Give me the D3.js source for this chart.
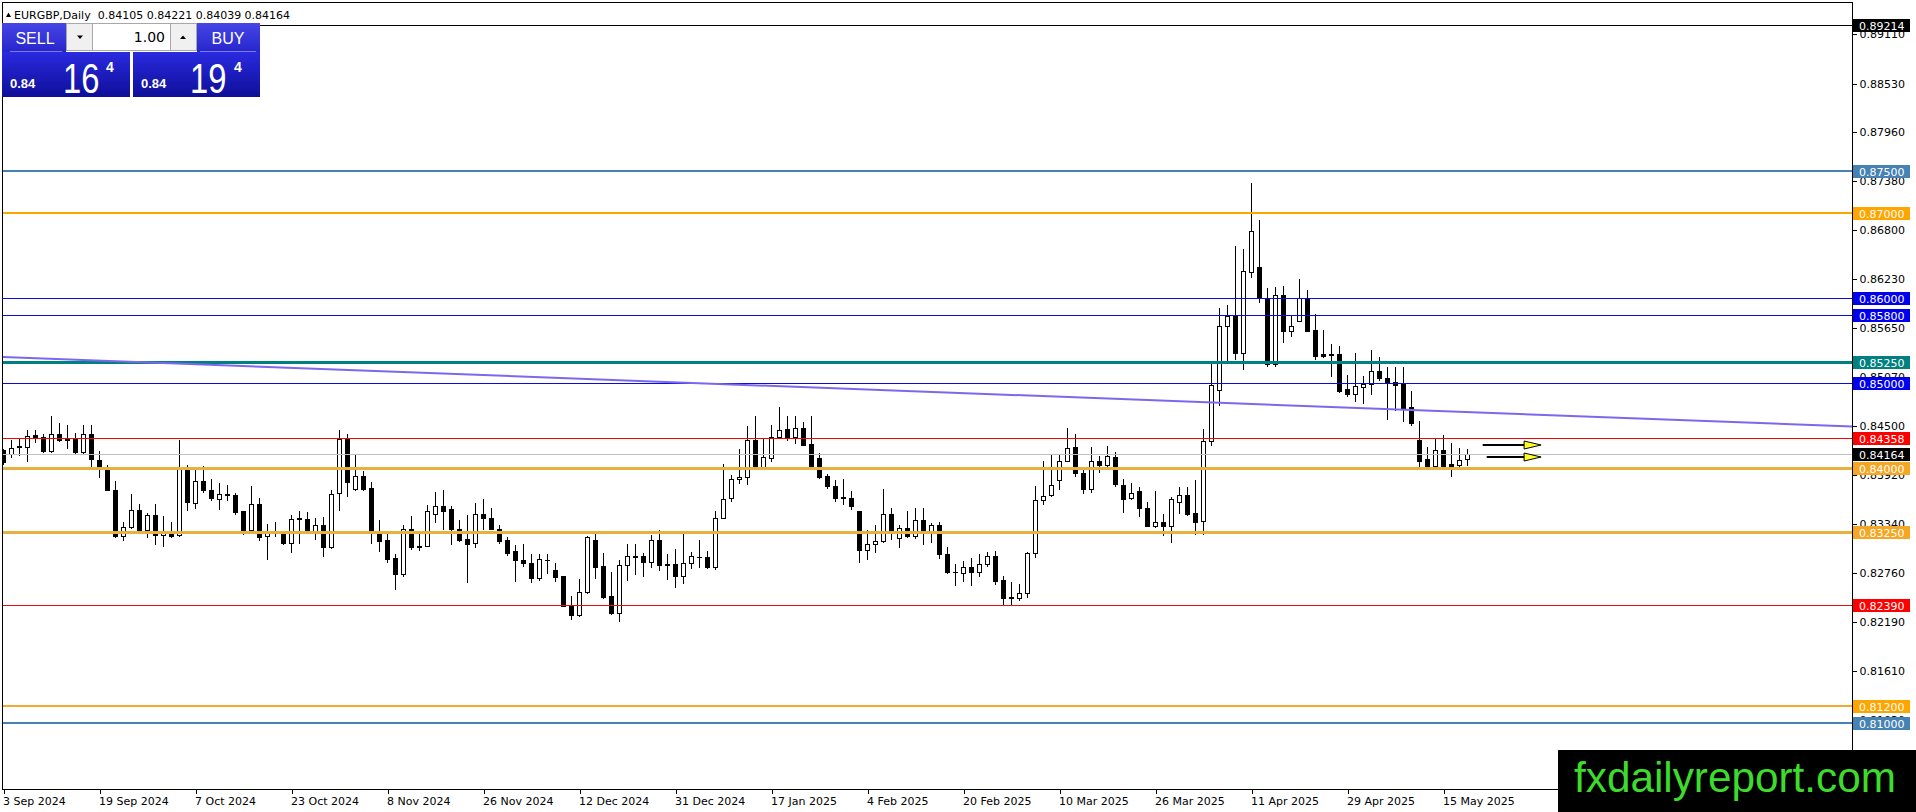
<!DOCTYPE html>
<html>
<head>
<meta charset="utf-8">
<script src="https://cdnjs.cloudflare.com/ajax/libs/d3/7.8.5/d3.min.js"></script>
<style>
  body { margin: 0; background: #fff; overflow: hidden; }
  svg { display: block; }
</style>
</head>
<body>
<script>
// EURGBP daily candles, 3 Sep 2024 .. 20 May 2025
var opens = [.84208,.84169,.84255,.84247,.84385,.84369,.84200,.84397,.84338,.84338,
.84188,.84404,.84098,.83992,.83745,.83195,.83305,.83509,.83266,.83443,
.83207,.83254,.83207,.83992,.83592,.83843,.83745,.83635,.83694,.83678,
.83490,.83266,.83580,.83195,.83250,.83227,.83117,.83407,.83403,.83234,
.83333,.83070,.83709,.84345,.83753,.83910,.83768,.83258,.83148,.82944,
.82748,.83286,.83085,.83081,.83462,.83560,.83513,.83286,.83160,.83117,
.83462,.83411,.83286,.83148,.83019,.82913,.82885,.82704,.82924,.82806,
.82724,.82375,.82273,.82540,.83156,.82846,.82500,.82292,.82854,.82964,
.82960,.82893,.83156,.82873,.82873,.82728,.82885,.82956,.82948,.82834,
.83415,.83647,.83870,.83894,.84334,.84012,.84118,.84365,.84463,.84365,
.84475,.84279,.84122,.83902,.83784,.83655,.83651,.83501,.83038,.83109,
.83140,.83462,.83179,.83297,.83203,.83391,.83258,.83333,.82991,.82779,
.82767,.82834,.82775,.82873,.82971,.82677,.82477,.82473,.82532,.83003,
.83627,.83686,.83863,.84082,.84247,.83945,.83753,.84082,.84039,.84137,
.83804,.83651,.83725,.83533,.83321,.83364,.83321,.83607,.83686,.83474,
.83376,.84318,.84915,.85680,.85790,.85354,.86316,.86375,.86002,.85221,
.86042,.85614,.85731,.86006,.85629,.85343,.85339,.85339,.84927,.84876,
.84954,.84993,.85150,.85064,.85009,.84993,.84726,.84326,.84102,.84020,
.84208,.84043,.84040,.84105];

var highs = [.84228,.84334,.84357,.84444,.84451,.84404,.84609,.84534,.84514,.84416,
.84514,.84514,.84200,.84039,.83843,.83364,.83698,.83580,.83474,.83580,
.83431,.83364,.84326,.84039,.83973,.84027,.83867,.83827,.83804,.83706,
.83501,.83784,.83651,.83337,.83364,.83234,.83443,.83501,.83478,.83415,
.83423,.83745,.84451,.84404,.84169,.83961,.83831,.83384,.83234,.82991,
.83325,.83431,.83219,.83568,.83717,.83737,.83560,.83384,.83443,.83592,
.83631,.83533,.83325,.83187,.83089,.83101,.82991,.82991,.82983,.82885,
.82728,.82500,.82697,.83195,.83234,.82999,.82775,.82913,.83109,.83109,
.83003,.83215,.83266,.82983,.83050,.83234,.83011,.83156,.83030,.83501,
.84043,.83914,.84220,.84491,.84609,.84357,.84514,.84718,.84609,.84620,
.84542,.84609,.84181,.83933,.83855,.83874,.83725,.83501,.83274,.83333,
.83757,.83533,.83333,.83501,.83533,.83533,.83352,.83364,.83070,.82873,
.82901,.82944,.82991,.83011,.83030,.82724,.82657,.82638,.83011,.83784,
.84090,.84161,.84149,.84475,.84397,.84012,.84247,.84145,.84263,.84185,
.83874,.83827,.83776,.83600,.83725,.83462,.83666,.83776,.83776,.83863,
.84463,.85229,.85885,.85924,.86611,.86583,.87361,.86917,.86120,.86132,
.86151,.85806,.86230,.86093,.85810,.85629,.85457,.85433,.85103,.85358,
.85080,.85386,.85315,.85190,.85197,.85197,.84903,.84561,.84255,.84345,
.84385,.84298,.84239,.84221];

var lows = [.84043,.84130,.84157,.84090,.84306,.84196,.84188,.84314,.84239,.84169,
.84161,.84012,.83894,.83737,.83187,.83148,.83293,.83254,.83187,.83109,
.83081,.83187,.83195,.83509,.83533,.83717,.83627,.83513,.83619,.83462,
.83227,.83258,.83156,.82932,.83195,.83109,.83011,.83117,.83258,.83168,
.82964,.83060,.83509,.83670,.83745,.83745,.83117,.83030,.82893,.82579,
.82728,.83050,.83038,.83081,.83364,.83286,.83109,.83140,.82657,.83070,
.83282,.83278,.83121,.82979,.82665,.82846,.82657,.82685,.82763,.82669,
.82371,.82225,.82253,.82528,.82704,.82469,.82280,.82198,.82677,.82748,
.82728,.82834,.82803,.82693,.82598,.82646,.82822,.82834,.82822,.82814,
.83407,.83611,.83823,.83808,.83992,.84004,.84090,.84353,.84334,.84294,
.84267,.84012,.83886,.83764,.83611,.83580,.83521,.82893,.82932,.83011,
.83128,.83160,.83070,.83187,.83179,.83101,.83128,.82944,.82763,.82618,
.82669,.82626,.82728,.82842,.82638,.82402,.82402,.82449,.82481,.82952,
.83580,.83670,.83753,.84079,.83902,.83713,.83717,.83953,.84012,.83784,
.83482,.83639,.83431,.83317,.83305,.83215,.83128,.83470,.83454,.83227,
.83219,.84275,.84738,.85268,.85288,.85170,.86257,.85955,.85209,.85209,
.85484,.85555,.85731,.85614,.85288,.85307,.85080,.84895,.84844,.84789,
.84766,.84868,.85040,.84581,.84687,.84561,.84503,.84020,.84004,.84004,
.84004,.83906,.84012,.84039];

var closes = [.84071,.84239,.84259,.84381,.84369,.84200,.84397,.84334,.84334,.84188,
.84404,.84110,.83992,.83745,.83195,.83305,.83509,.83266,.83450,.83207,
.83258,.83199,.83992,.83600,.83843,.83737,.83647,.83698,.83686,.83482,
.83266,.83580,.83187,.83242,.83242,.83117,.83403,.83399,.83266,.83333,
.83070,.83698,.84345,.83835,.83910,.83753,.83258,.83140,.82928,.82755,
.83286,.83070,.83077,.83501,.83560,.83494,.83278,.83148,.83109,.83462,
.83411,.83286,.83140,.82999,.82920,.82881,.82704,.82932,.82916,.82716,
.82382,.82273,.82547,.83187,.82834,.82481,.82292,.82854,.82960,.82956,
.82893,.83156,.82858,.82858,.82728,.82885,.82960,.82948,.82834,.83415,
.83639,.83874,.83894,.84334,.84004,.84130,.84365,.84451,.84365,.84475,
.84275,.84020,.83894,.83788,.83647,.83647,.83560,.83038,.83109,.83140,
.83462,.83266,.83297,.83195,.83391,.83258,.83333,.82991,.82775,.82771,
.82834,.82775,.82873,.82971,.82669,.82473,.82469,.82532,.83003,.83627,
.83670,.83804,.84082,.84239,.83945,.83753,.84082,.84039,.84145,.83815,
.83639,.83709,.83533,.83321,.83364,.83321,.83639,.83686,.83462,.83364,
.84318,.84974,.85680,.85790,.85354,.86328,.86799,.86002,.85221,.86042,
.85614,.85669,.86006,.85621,.85319,.85319,.85331,.84907,.84868,.84962,
.84993,.85150,.85060,.85001,.84981,.84711,.84530,.84090,.84012,.84208,
.84020,.84012,.84098,.84164];

// one label every 12 bars
var dateLabels = ["3 Sep 2024", "19 Sep 2024", "7 Oct 2024", "23 Oct 2024", "8 Nov 2024",
  "26 Nov 2024", "12 Dec 2024", "31 Dec 2024", "17 Jan 2025", "4 Feb 2025", "20 Feb 2025",
  "10 Mar 2025", "26 Mar 2025", "11 Apr 2025", "29 Apr 2025", "15 May 2025"];

var priceTicks = [0.8911, 0.8853, 0.8796, 0.8738, 0.8680, 0.8623, 0.8565, 0.8507,
  0.8450, 0.8392, 0.8334, 0.8276, 0.8219, 0.8161, 0.8103];

var levelPrices = [0.89214, 0.875, 0.87, 0.86, 0.858, 0.8525, 0.85, 0.84358, 0.84, 0.8325, 0.8239, 0.812, 0.81];

var askPrice = 0.84194;
var trendStart = [-0.45, 0.8531],
    trendEnd = [231.1, 0.8449];
var arrowPrices = [0.84273, 0.84136],
    arrowFrom = [184.9, 185.4],
    arrowTo = 192.2;

// ---------------------------------------------------------------
var width = 1916,
    height = 812,
    plotRight = 1852,
    plotBottom = 789;

var n = closes.length;
var bidPrice = closes[n - 1];

var x = d3.scaleLinear()
    .domain([0, n - 1])
    .range([3.5, 3.5 + 8 * (n - 1)]);

var y = d3.scaleLinear()
    .domain([0.875, 0.81])
    .range([171, 722.85]);

var fmt = d3.format(".5f");
var font = "'DejaVu Sans', Verdana, sans-serif";
var sans = "'Liberation Sans', Arial, sans-serif";

// colour, width, label colour
var levelLook = [
  ["#000000", 1, "#000000"],
  ["#4682b4", 2, "#4682b4"],
  ["#ffa500", 2, "#ffa500"],
  ["#0a0ae0", 1, "#0000ee"],
  ["#0a0ae0", 1, "#0000ee"],
  ["#008080", 3, "#008080"],
  ["#0a0ae0", 1, "#0000ee"],
  ["#ff0000", 1, "#ff0000"],
  ["#e8b040", 3, "#f5a623"],
  ["#e8b040", 3, "#f5a623"],
  ["#e01010", 1, "#ff0000"],
  ["#f5a830", 2, "#ffa500"],
  ["#4682b4", 2, "#4682b4"]
];

function crisp(v, w) {
  return Math.round(y(v)) + (w % 2 ? 0.5 : 0);
}

var svg = d3.select("body").append("svg")
    .attr("width", width)
    .attr("height", height)
    .attr("font-family", font);

svg.append("defs").append("clipPath").attr("id", "plot")
  .append("rect").attr("x", 3).attr("y", 3).attr("width", plotRight - 3).attr("height", plotBottom - 3);

svg.append("defs").html(
  '<linearGradient id="pbox" x1="0" y1="0" x2="0" y2="1">' +
  '<stop offset="0" stop-color="#2a2ae0"/><stop offset="1" stop-color="#0e0e98"/></linearGradient>' +
  '<linearGradient id="pbtn" x1="0" y1="0" x2="0" y2="1">' +
  '<stop offset="0" stop-color="#4646e6"/><stop offset="1" stop-color="#2626cc"/></linearGradient>');

var plot = svg.append("g").attr("clip-path", "url(#plot)");

// candles
var data = d3.range(n).map(function(i) {
  return {i: i, o: opens[i], h: highs[i], l: lows[i], c: closes[i]};
});

var candle = plot.append("g").attr("shape-rendering", "crispEdges")
  .selectAll("g")
    .data(data)
  .enter().append("g");

candle.append("line")
    .attr("x1", function(d) { return x(d.i); })
    .attr("x2", function(d) { return x(d.i); })
    .attr("y1", function(d) { return Math.round(y(Math.max(d.h, d.o, d.c))); })
    .attr("y2", function(d) { return Math.round(y(Math.min(d.l, d.o, d.c))) + 1; })
    .attr("stroke", "#000");

candle.filter(function(d) { return d.c < d.o; }).append("rect")
    .attr("x", function(d) { return x(d.i) - 2.5; })
    .attr("y", function(d) { return Math.round(y(d.o)); })
    .attr("width", 5)
    .attr("height", function(d) { return Math.max(1, Math.round(y(d.c)) - Math.round(y(d.o)) + 1); })
    .attr("fill", "#000");

candle.filter(function(d) { return d.c >= d.o; }).append("rect")
    .attr("x", function(d) { return x(d.i) - 2; })
    .attr("y", function(d) { return Math.round(y(d.c)) + 0.5; })
    .attr("width", 4)
    .attr("height", function(d) { return Math.round(y(d.o)) - Math.round(y(d.c)); })
    .attr("fill", "#fff")
    .attr("stroke", "#000");

// horizontal levels
plot.append("g").attr("shape-rendering", "crispEdges")
  .selectAll("line")
    .data(levelPrices)
  .enter().append("line")
    .attr("x1", 3)
    .attr("x2", plotRight)
    .attr("y1", function(d, i) { return crisp(d, levelLook[i][1]); })
    .attr("y2", function(d, i) { return crisp(d, levelLook[i][1]); })
    .attr("stroke", function(d, i) { return levelLook[i][0]; })
    .attr("stroke-width", function(d, i) { return levelLook[i][1]; });

// bid line
plot.append("line")
    .attr("x1", 3).attr("x2", plotRight)
    .attr("y1", crisp(bidPrice, 1)).attr("y2", crisp(bidPrice, 1))
    .attr("stroke", "#c0c0c0")
    .attr("shape-rendering", "crispEdges");

// trend line
plot.append("path")
    .datum([trendStart, trendEnd])
    .attr("d", d3.line().x(function(d) { return x(d[0]); }).y(function(d) { return y(d[1]); }))
    .attr("stroke", "#7b68ee")
    .attr("stroke-width", 2)
    .attr("fill", "none");

// arrows
var arrow = plot.selectAll(".arrow")
    .data(arrowPrices)
  .enter().append("g").attr("class", "arrow");

arrow.append("line")
    .attr("x1", function(d, i) { return x(arrowFrom[i]); })
    .attr("x2", x(arrowTo) - 14)
    .attr("y1", function(d) { return Math.round(y(d)); })
    .attr("y2", function(d) { return Math.round(y(d)); })
    .attr("stroke", "#000")
    .attr("stroke-width", 2);

arrow.append("path")
    .attr("d", function(d) {
      var t = x(arrowTo), yy = Math.round(y(d));
      return "M" + (t - 17) + "," + (yy - 4) + "L" + t + "," + yy + "L" + (t - 17) + "," + (yy + 4) + "Z";
    })
    .attr("fill", "#ffff20")
    .attr("stroke", "#000")
    .attr("stroke-width", 1);

// frame
svg.append("rect")
    .attr("x", 2.5).attr("y", 2.5)
    .attr("width", plotRight - 2.5 + 0.5).attr("height", plotBottom - 2.5 + 0.5)
    .attr("fill", "none")
    .attr("stroke", "#000")
    .attr("shape-rendering", "crispEdges");

// price axis
var yAxis = d3.axisRight(y)
    .tickValues(priceTicks)
    .tickFormat(fmt)
    .tickSize(4)
    .tickPadding(3);

svg.append("g")
    .attr("transform", "translate(" + (plotRight + 0.5) + ",0)")
    .call(yAxis)
    .call(function(g) { g.select(".domain").remove(); })
    .attr("font-family", font)
    .attr("font-size", 11)
    .attr("shape-rendering", "crispEdges");

// time axis
var xAxis = d3.axisBottom(x)
    .tickValues(d3.range(0, dateLabels.length * 12, 12))
    .tickFormat(function(d) { return dateLabels[d / 12]; })
    .tickSize(4)
    .tickPadding(4);

svg.append("g")
    .attr("transform", "translate(0," + (plotBottom + 0.5) + ")")
    .call(xAxis)
    .call(function(g) { g.select(".domain").remove(); })
    .attr("font-family", font)
    .attr("font-size", 11)
    .attr("shape-rendering", "crispEdges")
  .selectAll("text")
    .attr("text-anchor", "start")
    .attr("x", -1);

// price labels on the right
var tags = levelPrices.map(function(v, i) { return {v: v, col: levelLook[i][2]}; });
tags.push({v: bidPrice, col: "#000000"});

var tag = svg.append("g").selectAll("g")
    .data(tags)
  .enter().append("g")
    .attr("transform", function(d) { return "translate(0," + Math.round(y(d.v)) + ")"; });

tag.append("rect")
    .attr("x", plotRight + 1).attr("y", -6)
    .attr("width", 57).attr("height", 13)
    .attr("fill", function(d) { return d.col; });

tag.append("text")
    .attr("x", plotRight + 7).attr("y", 4.5)
    .attr("font-size", 11)
    .attr("fill", "#fff")
    .text(function(d) { return fmt(d.v); });

// header
var last = data[n - 1];
svg.append("path").attr("d", "M6,17L8.5,12.5L11,17Z").attr("fill", "#000");
svg.append("text")
    .attr("x", 14).attr("y", 18.5)
    .attr("font-size", 11)
    .attr("xml:space", "preserve")
    .text("EURGBP,Daily  " + [last.o, last.h, last.l, last.c].map(fmt).join(" "));

// one click trading panel
var panel = svg.append("g");
panel.append("rect").attr("x", 2).attr("y", 23).attr("width", 64).attr("height", 29).attr("fill", "url(#pbtn)");
panel.append("rect").attr("x", 197).attr("y", 23).attr("width", 63).attr("height", 29).attr("fill", "url(#pbtn)");
panel.append("rect").attr("x", 66.5).attr("y", 23.5).attr("width", 130).attr("height", 27).attr("fill", "#f0f0f0").attr("stroke", "#a8a8a8");
panel.append("rect").attr("x", 92.5).attr("y", 23.5).attr("width", 78).attr("height", 27).attr("fill", "#fff").attr("stroke", "#a8a8a8");
panel.append("path").attr("d", "M77,35.5L83,35.5L80,39Z").attr("fill", "#000");
panel.append("path").attr("d", "M180,39L186,39L183,35.5Z").attr("fill", "#000");
panel.append("text").attr("x", 165).attr("y", 42).attr("text-anchor", "end")
    .attr("font-size", 14).text("1.00");
panel.append("line").attr("x1", 10).attr("x2", 62).attr("y1", 51.5).attr("y2", 51.5).attr("stroke", "#7a7af0");
panel.append("line").attr("x1", 200).attr("x2", 256).attr("y1", 51.5).attr("y2", 51.5).attr("stroke", "#7a7af0");
panel.append("text").attr("x", 35).attr("y", 44).attr("text-anchor", "middle")
    .attr("font-family", sans).attr("font-size", 16)
    .attr("fill", "#fff").text("SELL");
panel.append("text").attr("x", 228).attr("y", 44).attr("text-anchor", "middle")
    .attr("font-family", sans).attr("font-size", 16)
    .attr("fill", "#fff").text("BUY");

var quotes = [
  {p: bidPrice, x0: 2, w: 128},
  {p: askPrice, x0: 133, w: 127}
];
var q = panel.selectAll(".quote")
    .data(quotes)
  .enter().append("g").attr("class", "quote")
    .attr("transform", function(d) { return "translate(" + d.x0 + ",0)"; });

q.append("rect").attr("y", 52).attr("width", function(d) { return d.w; }).attr("height", 45)
    .attr("fill", "url(#pbox)");
q.append("text").attr("x", 8).attr("y", 88)
    .attr("font-family", sans).attr("font-size", 13).attr("font-weight", "bold")
    .attr("fill", "#fff")
    .text(function(d) { return fmt(d.p).slice(0, 4); });
// big pips, squeezed sideways like the terminal font
q.append("g")
    .attr("transform", function(d, i) { return "translate(" + (i ? 57 : 61) + ",93) scale(0.78,1)"; })
  .append("text")
    .attr("font-family", sans).attr("font-size", 42)
    .attr("fill", "#fff")
    .text(function(d) { return fmt(d.p).slice(4, 6); });
q.append("text").attr("x", function(d, i) { return i ? 101 : 104; }).attr("y", 72)
    .attr("font-family", sans).attr("font-size", 14).attr("font-weight", "bold")
    .attr("fill", "#fff")
    .text(function(d) { return fmt(d.p).slice(6); });

// watermark
svg.append("rect").attr("x", 1558).attr("y", 750).attr("width", 358).attr("height", 62).attr("fill", "#000");
svg.append("text")
    .attr("x", 1574).attr("y", 792)
    .attr("font-family", sans)
    .attr("font-size", 43)
    .attr("textLength", 322).attr("lengthAdjust", "spacingAndGlyphs")
    .attr("fill", "#3ddc2c")
    .text("fxdailyreport.com");
</script>
</body>
</html>
